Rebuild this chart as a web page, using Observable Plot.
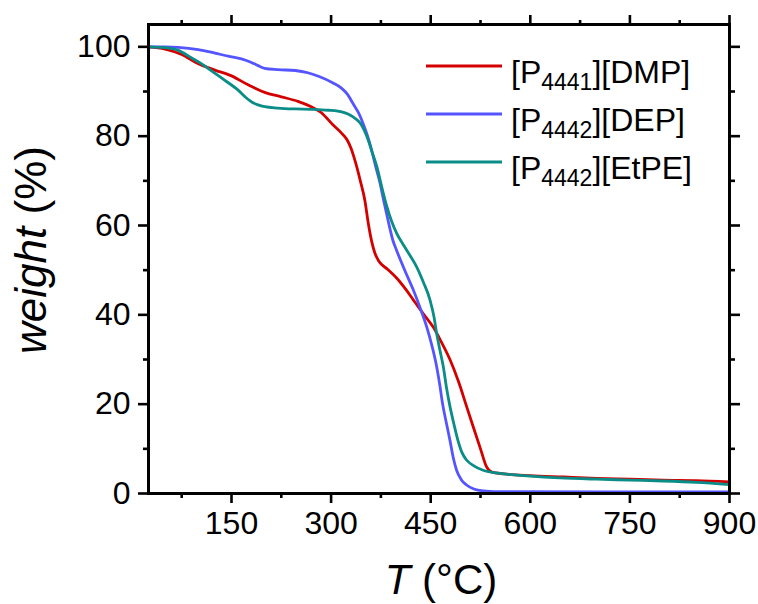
<!DOCTYPE html>
<html><head><meta charset="utf-8">
<script src="https://cdn.jsdelivr.net/npm/d3@7"></script>
<script src="https://cdn.jsdelivr.net/npm/@observablehq/plot@0.6"></script>
<style>
body{margin:0;background:#fff}
#chart{width:758px;height:604px}
</style>
</head><body><div id="chart"></div>
<script>
// ---- data ----
const seriesNames = ["[P4441][DMP]", "[P4442][DEP]", "[P4442][EtPE]"];
const legendMain1 = ["[P", "[P", "[P"];
const legendSub = ["4441", "4442", "4442"];
const legendMain2 = ["][DMP]", "][DEP]", "][EtPE]"];
const seriesColors = ["#d40000", "#5555ff", "#0a8c87"];

const tDMP = [25,50,75,100,125,150,175,200,225,250,270,285,303,315,324,330,337,344,351,356,361,366,372,385,399,412,424,440,454,464,479,492,504,515,525,534,542,560,600,650,700,750,800,850,900];
const wDMP = [100,99.5,98.3,96.2,94.8,93.5,91.5,89.8,88.8,87.8,86.6,85.3,82.5,80.8,79.2,77.3,74,70,65.5,60.5,56.5,53.8,52,50.2,48.2,45.8,43.3,40,37.2,34.5,30,25,19.5,14.5,10,6,4.8,4.4,4.0,3.7,3.4,3.2,3.0,2.9,2.6];

const tDEP = [25,50,70,100,125,145,165,180,190,200,220,246,265,281,303,316,325,333,341,348,355,361,367,374,379,386,393,399,412,424,434,444,452,459,464,467,474,479,484,489,496,504,515,529,560,900];
const wDEP = [100,100,99.9,99.4,98.6,97.9,97.3,96.5,95.8,95.2,94.9,94.7,94.2,93.4,91.9,90.7,89.3,87.3,85.3,82.9,80,76.9,73.3,69.3,65.7,61,56.7,54.3,49.6,45.5,41.6,37.3,33,28.4,24,20.9,15.5,11.9,8,5.2,3.1,1.9,1.0,0.6,0.4,0.35];

const tEtPE = [25,50,70,90,105,120,140,160,172,181,190,200,220,246,270,296,310,321,329,336,344,350,356,362,369,376,384,391,399,410,420,429,439,449,455,459,464,469,474,479,485,491,497,504,515,529,554,600,644,700,750,800,850,900];
const wEtPE = [100,99.8,99.2,97.5,96.2,94.6,92.5,90.3,88.6,87.6,87,86.6,86.3,86.1,86,85.8,85.6,85.2,84.7,84,82.9,81.3,79.1,76.3,73.1,68.8,64.2,61,58.2,55.4,53,50.7,47.3,43.3,39.5,35.8,32,28.4,23.5,19.5,15.5,11.9,9.2,7.5,6.2,5.2,4.5,3.9,3.5,3.2,3.0,2.8,2.5,2.0];

const xMajor = [150,300,450,600,750,900];
const xMinor = [75,225,375,525,675,825];
const yMajor = [0,20,40,60,80,100];
const yMinor = [10,30,50,70,90];

// ---- build table ----
const rows = [];
[[tDMP,wDMP],[tDEP,wDEP],[tEtPE,wEtPE]].forEach(([t,w],i)=>{
  t.forEach((v,j)=>rows.push({series: seriesNames[i], T: v, W: w[j]}));
});

const font = "'Liberation Sans', Arial, sans-serif";
const blank = () => "";
const chart = Plot.plot({
  width: 758, height: 604,
  marginLeft: 148, marginRight: 29, marginTop: 24, marginBottom: 111,
  style: {fontFamily: font, fontSize: "32px", color: "#000", background: "#fff", overflow: "visible"},
  x: {domain: [25, 900], label: null},
  y: {domain: [0, 105], label: null},
  color: {domain: seriesNames, range: seriesColors},
  marks: [
    Plot.line(rows, {x: "T", y: "W", z: "series", stroke: "series", strokeWidth: 2.8, curve: "monotone-x"}),
    Plot.axisX(xMajor, {anchor: "bottom", tickSize: 10, tickPadding: 8, strokeWidth: 2.6, label: null, fontSize: 32}),
    Plot.axisX(xMinor, {anchor: "bottom", tickSize: 5, strokeWidth: 2.6, label: null, tickFormat: blank}),
    Plot.axisX(xMajor, {anchor: "top", tickSize: 10, strokeWidth: 2.6, label: null, tickFormat: blank}),
    Plot.axisX(xMinor, {anchor: "top", tickSize: 5, strokeWidth: 2.6, label: null, tickFormat: blank}),
    Plot.axisY(yMajor, {anchor: "left", tickSize: 10, tickPadding: 8, strokeWidth: 2.6, label: null, fontSize: 32}),
    Plot.axisY(yMinor, {anchor: "left", tickSize: 5, strokeWidth: 2.6, label: null, tickFormat: blank}),
    Plot.axisY(yMajor, {anchor: "right", tickSize: 10, strokeWidth: 2.6, label: null, tickFormat: blank}),
    Plot.axisY(yMinor, {anchor: "right", tickSize: 5, strokeWidth: 2.6, label: null, tickFormat: blank}),
    Plot.frame({strokeWidth: 3, stroke: "#000"})
  ]
});
document.getElementById("chart").appendChild(chart);

const svg = d3.select(chart);
// axis titles
const xt = svg.append("text").attr("x", 441).attr("y", 594).attr("text-anchor", "middle")
  .attr("font-family", font).attr("font-size", 42).attr("fill", "#000");
xt.append("tspan").attr("font-style", "italic").text("T");
xt.append("tspan").text(" (°C)");
const yt = svg.append("text").attr("transform", "translate(46,250) rotate(-90)").attr("text-anchor", "middle")
  .attr("font-family", font).attr("font-size", 44).attr("fill", "#000");
yt.append("tspan").attr("font-style", "italic").text("weight");
yt.append("tspan").text(" (%)");

// legend
const lg = svg.append("g").attr("font-family", font).attr("fill", "#000").attr("text-anchor", "start");
seriesNames.forEach((n, i) => {
  lg.append("line").attr("x1", 426).attr("x2", 502).attr("y1", 66 + 48 * i).attr("y2", 66 + 48 * i)
    .attr("stroke", seriesColors[i]).attr("stroke-width", 3);
  const t = lg.append("text").attr("x", 511).attr("y", 83 + 48 * i).attr("font-size", 32).attr("text-anchor", "start");
  t.append("tspan").text(legendMain1[i]);
  t.append("tspan").attr("font-size", 23).attr("dy", 7).text(legendSub[i]);
  t.append("tspan").attr("dy", -7).text(legendMain2[i]);
});
</script>
</body></html>
